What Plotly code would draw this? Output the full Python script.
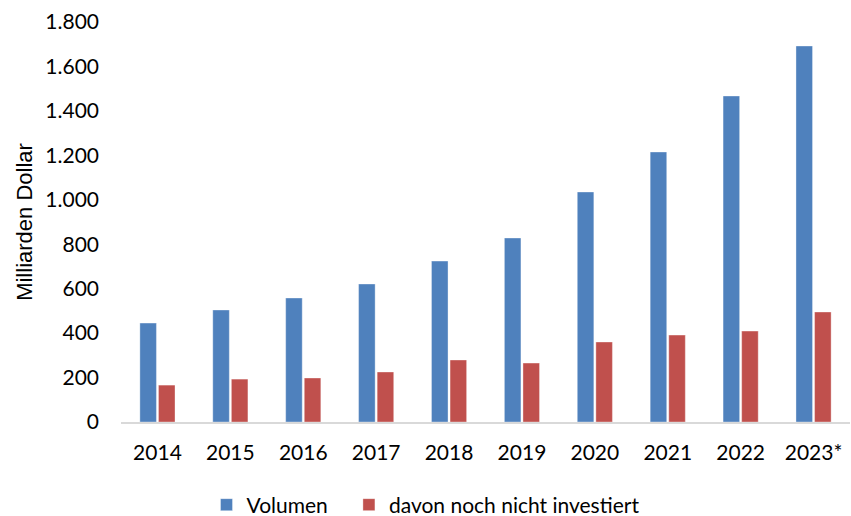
import plotly.graph_objects as go

years = ["2014", "2015", "2016", "2017", "2018", "2019", "2020", "2021", "2022", "2023*"]
volumen = [445, 504, 558, 621, 724, 828, 1035, 1215, 1467, 1692]
nicht_investiert = [166, 193, 198, 225, 279, 265, 360, 391, 409, 495]
y_ticks = [0, 200, 400, 600, 800, 1000, 1200, 1400, 1600, 1800]

FONT = "Lato"

fig = go.Figure()
fig.add_trace(go.Bar(
    x=years, y=volumen, name="Volumen\u00a0\u00a0\u00a0",
    marker=dict(color="#4F81BD", line=dict(color="rgba(255,255,255,0.35)", width=1)),
))
fig.add_trace(go.Bar(
    x=years, y=nicht_investiert, name="davon noch nicht investiert",
    marker=dict(color="#C0504D", line=dict(color="rgba(255,255,255,0.35)", width=1)),
))

fig.update_layout(
    width=851, height=516,
    margin=dict(l=121, r=1, t=22, b=94, autoexpand=False),
    paper_bgcolor="white", plot_bgcolor="white",
    barmode="group", bargap=0.49, bargroupgap=0.11,
    separators=",.",
    font=dict(family=FONT, size=21, color="#000000"),
    showlegend=True,
    legend=dict(
        orientation="h", xref="container", yref="container",
        x=0.5, xanchor="center", y=0.0213, yanchor="middle",
        font=dict(size=21), traceorder="normal", itemwidth=30,
    ),
    xaxis=dict(
        showline=True, linecolor="#D9D9D9", linewidth=2,
        showgrid=False, ticks="", ticklabelstandoff=11,
        tickfont=dict(size=21), automargin=False,
    ),
    yaxis=dict(
        range=[0, 1800], tickvals=y_ticks, tickformat=",d",
        showgrid=False, zeroline=False, showline=False,
        ticks="", ticklabelstandoff=21, automargin=False,
        tickfont=dict(size=21),
        title=dict(text="Milliarden Dollar", font=dict(size=22, family="Liberation Sans"), standoff=6),
    ),
)

fig.write_html("out.html")
